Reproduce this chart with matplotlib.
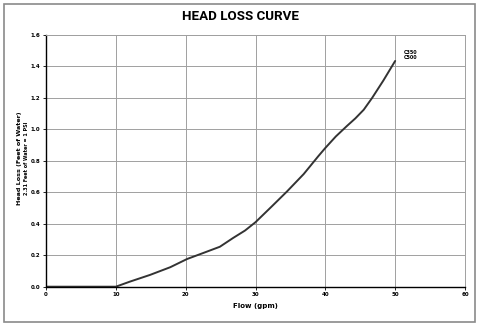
import matplotlib
matplotlib.use("Agg")
import matplotlib.pyplot as plt
from matplotlib.patches import Rectangle

flow = [0, 7, 10, 12.0, 14.9, 17.8, 20.2, 22.5, 24.9, 26.8, 28.5, 30, 32.3, 34.5, 36.9, 39.0, 40,
        41.5, 43.1, 44.3, 45.5, 46.7, 48.3, 50]
head = [0, 0, 0, 0.032, 0.075, 0.124, 0.176, 0.214, 0.254, 0.31, 0.357, 0.41, 0.509, 0.605, 0.716,
        0.83, 0.882, 0.955, 1.022, 1.07, 1.125, 1.20, 1.31, 1.435]
xticks = [0, 10, 20, 30, 40, 50, 60]
yticks = [0.0, 0.2, 0.4, 0.6, 0.8, 1.0, 1.2, 1.4, 1.6]

fig = plt.figure(figsize=(4.8, 3.27), dpi=100)
fig.patches.append(Rectangle((4/480, 5/327), 471/480, 318/327, transform=fig.transFigure,
                             fill=False, edgecolor="#8a8a8a", linewidth=1.2))
ax = fig.add_axes([46/480, 40.3/327, 419/480, 251.7/327])
ax.plot(flow, head, color="#333333", linewidth=1.4, solid_capstyle="round", solid_joinstyle="round")
ax.set_xlim(0, 60)
ax.set_ylim(0, 1.6)
ax.set_xticks(xticks)
ax.set_xticklabels([str(t) for t in xticks])
ax.set_yticks(yticks)
ax.set_yticklabels([f"{t:.1f}" for t in yticks])
ax.grid(True, color="#a0a0a0", linewidth=0.7)
ax.tick_params(labelsize=4, length=2, width=0.6, pad=2)
for lab in ax.get_xticklabels() + ax.get_yticklabels():
    lab.set_fontweight("bold")
ax.spines["left"].set_linewidth(1.0)
ax.spines["bottom"].set_linewidth(1.0)
ax.spines["top"].set_color("#a0a0a0")
ax.spines["right"].set_color("#a0a0a0")
ax.spines["top"].set_linewidth(0.7)
ax.spines["right"].set_linewidth(0.7)
ax.set_xlabel("Flow (gpm)", fontsize=5, fontweight="bold", labelpad=4)
fig.text(20/480, 1 - 158/327, "Head Loss (Feet of Water)", rotation=90, fontsize=4.6,
         fontweight="bold", ha="center", va="center")
fig.text(27/480, 1 - 158/327, "2.31 Feet of Water = 1 PSI", rotation=90, fontsize=3.5,
         fontweight="bold", ha="center", va="center")
ax.text(51.3, 1.47, "C350\nC500", fontsize=3.5, fontweight="bold", ha="left", va="center",
        linespacing=1.0)
fig.text(240/480, 1 - 17/327, "HEAD LOSS CURVE", fontsize=9.6, fontweight="bold",
         ha="center", va="center", family=["Roboto", "DejaVu Sans"])
fig.savefig("out.png", dpi=100)
